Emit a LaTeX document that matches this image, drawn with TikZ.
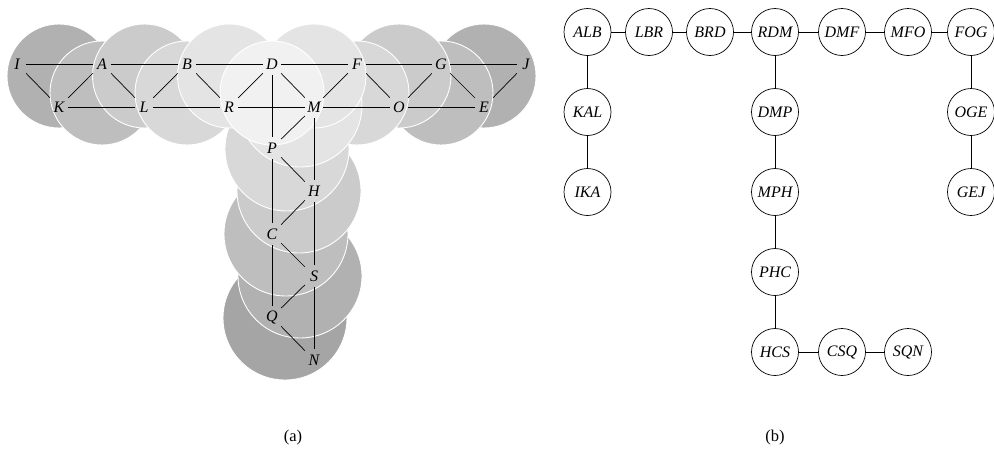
\documentclass[tikz,border=0pt]{standalone}
\usepackage{fontspec}
\setmainfont{Liberation Serif}
\begin{document}
\begin{tikzpicture}[x=1pt,y=-1pt,
  lbl/.style={rectangle,minimum width=18pt,minimum height=22pt,inner sep=0pt,font=\fontsize{16}{19}\selectfont\itshape},
  tri/.style={circle,draw,line width=0.7pt,minimum size=47pt,inner sep=1pt,font=\fontsize{16}{19}\selectfont\itshape},
  captext/.style={font=\fontsize{16.5}{19}\selectfont},
  disk/.style={fill=#1,draw=white,line width=0.9pt},
  edge/.style={line width=0.7pt}]
\definecolor{d0}{RGB}{241,241,241}
\definecolor{d1}{RGB}{228,228,228}
\definecolor{d2}{RGB}{216,216,216}
\definecolor{d3}{RGB}{203,203,203}
\definecolor{d4}{RGB}{190,190,190}
\definecolor{d5}{RGB}{177,177,177}
\definecolor{d6}{RGB}{165,165,165}
\useasboundingbox (0,0) rectangle (994,464);
% ---- (a) disks
\path[disk=d6] (285,318) circle (62pt);
\path[disk=d5] (59,76) circle (52pt);
\path[disk=d5] (484,76) circle (52pt);
\path[disk=d5] (300,276) circle (62pt);
\path[disk=d4] (102,93) circle (52pt);
\path[disk=d4] (441,93) circle (52pt);
\path[disk=d4] (286,234) circle (62pt);
\path[disk=d3] (144.5,76) circle (52pt);
\path[disk=d3] (399,76) circle (52pt);
\path[disk=d3] (299,191) circle (62pt);
\path[disk=d2] (187,93) circle (52pt);
\path[disk=d2] (357,93) circle (52pt);
\path[disk=d2] (287,149) circle (62pt);
\path[disk=d1] (300,105) circle (62pt);
\path[disk=d1] (229.5,76) circle (52pt);
\path[disk=d1] (314,76) circle (52pt);
\path[disk=d0] (272,93) circle (52pt);
% ---- (a) labels
\node[lbl] (I) at (17,64) {I};
\node[lbl] (A) at (102,64) {A};
\node[lbl] (B) at (187,64) {B};
\node[lbl] (D) at (272,64) {D};
\node[lbl] (F) at (357,64) {F};
\node[lbl] (G) at (441,64) {G};
\node[lbl] (J) at (526,64) {J};
\node[lbl] (K) at (59,107) {K};
\node[lbl] (L) at (144,107) {L};
\node[lbl] (R) at (229,107) {R};
\node[lbl] (M) at (314,107) {M};
\node[lbl] (O) at (399,107) {O};
\node[lbl] (E) at (484,107) {E};
\node[lbl] (P) at (272,148) {P};
\node[lbl] (H) at (314,191) {H};
\node[lbl] (C) at (272,234) {C};
\node[lbl] (S) at (314,276) {S};
\node[lbl] (Q) at (272,317) {Q};
\node[lbl] (N) at (314,360) {N};
% ---- (a) edges
\foreach \u/\v in {I/A,A/B,B/D,D/F,F/G,G/J,K/L,L/R,R/M,M/O,O/E,
  I/K,K/A,A/L,L/B,B/R,R/D,D/M,M/F,F/O,O/G,G/E,E/J,
  D/P,P/C,C/Q,M/H,H/S,S/N,M/P,P/H,H/C,C/S,S/Q,Q/N}
  \draw[edge] (\u) -- (\v);
% ---- (b) nodes
\node[tri] (ALB) at (587.5,32) {ALB};
\node[tri] (LBR) at (649,32) {LBR};
\node[tri] (BRD) at (710,32) {BRD};
\node[tri] (RDM) at (775,32) {RDM};
\node[tri] (DMF) at (842,32) {DMF};
\node[tri] (MFO) at (908,32) {MFO};
\node[tri] (FOG) at (971,32) {FOG};
\node[tri] (KAL) at (587.5,112) {KAL};
\node[tri] (IKA) at (587.5,192) {IKA};
\node[tri] (DMP) at (775,112) {DMP};
\node[tri] (MPH) at (775,192) {MPH};
\node[tri] (PHC) at (775,272) {PHC};
\node[tri] (HCS) at (775,352) {HCS};
\node[tri] (CSQ) at (842,352) {CSQ};
\node[tri] (SQN) at (908,352) {SQN};
\node[tri] (OGE) at (971,112) {OGE};
\node[tri] (GEJ) at (971,192) {GEJ};
\foreach \u/\v in {ALB/LBR,LBR/BRD,BRD/RDM,RDM/DMF,DMF/MFO,MFO/FOG,
  ALB/KAL,KAL/IKA,RDM/DMP,DMP/MPH,MPH/PHC,PHC/HCS,HCS/CSQ,CSQ/SQN,
  FOG/OGE,OGE/GEJ}
  \draw[edge] (\u) -- (\v);
% ---- captions
\node[captext] (capa) at (293,438) {(a)};
\node[captext] (capb) at (775,438) {(b)};
\end{tikzpicture}
\end{document}
